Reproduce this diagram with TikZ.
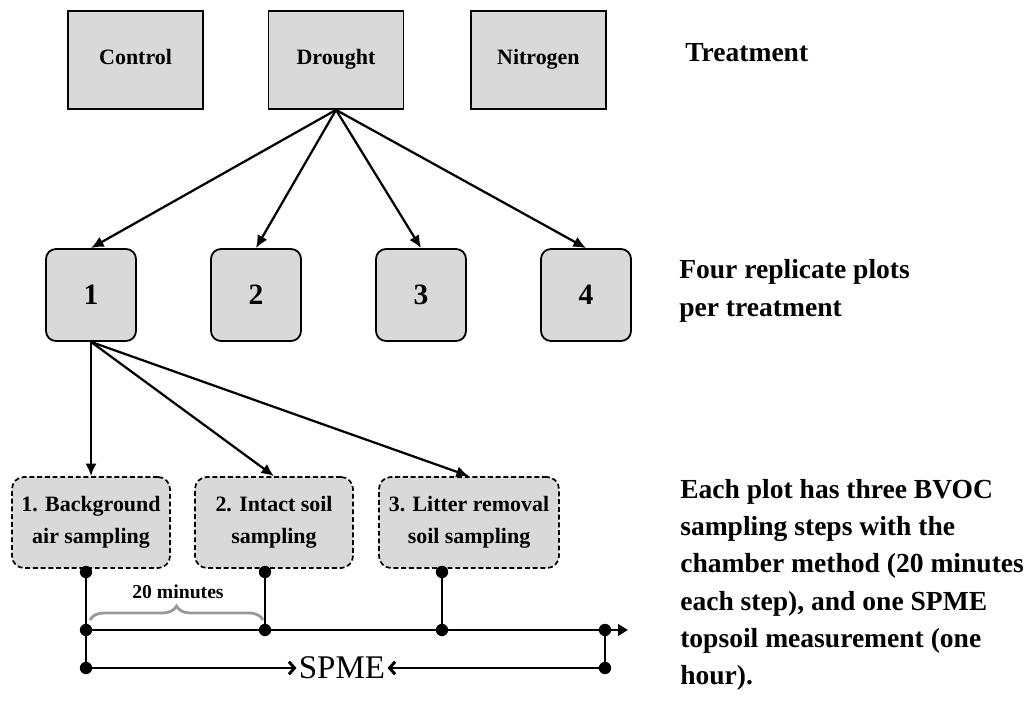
\documentclass[tikz,border=0pt]{standalone}
\usepackage{fontspec}
\setmainfont{Liberation Serif}
\usetikzlibrary{positioning}
\usetikzlibrary{arrows.meta}
\usetikzlibrary{decorations.pathreplacing}

\tikzset{
	treatbox/.style = {draw = black, line width = 1.3pt, fill = black!15, minimum width = 3.375cm, minimum height = 2.45cm, text height = 1.5ex, text depth = 0.1ex, font = \fontsize{15.6}{18}\selectfont\bfseries},
	plotbox/.style = {draw = black, line width = 1.3pt, fill = black!15, rounded corners = 0.25cm, minimum width = 2.25cm, minimum height = 2.3cm, font = \fontsize{21}{24}\selectfont\bfseries},
	samplebox/.style = {draw = black, line width = 1.2pt, dash pattern = on 3.5pt off 2pt, fill = black!15, rounded corners = 0.3cm, minimum height = 2.275cm, align = center, font = \fontsize{15.6}{22.8}\selectfont\bfseries},
	sidetext/.style = {anchor = west, align = left, inner sep = 0pt, font = \fontsize{19.6}{26.5}\selectfont\bfseries},
	dot/.style = {circle, fill = black, inner sep = 0pt, minimum size = 0.31cm},
	link/.style = {black, line width = 1.6pt, -{Latex[length = 9pt, width = 8pt]}},
	timeline/.style = {black, line width = 2.1pt},
}

\begin{document}
\begin{tikzpicture}
	\useasboundingbox (0, 0) rectangle (25.675, 17.775);
	\node[treatbox] (control) at (3.39, 16.275) {Control};
	\node[treatbox] (drought) at (8.4, 16.275) {Drought};
	\node[treatbox] (nitrogen) at (13.46, 16.275) {Nitrogen};
	\node[sidetext] (treatment) at (17.125, 16.45) {Treatment};
	\foreach \i/\x in {1/2.275, 2/6.4, 3/10.525, 4/14.65}
		\node[plotbox] (plot\i) at (\x, 10.4) {\i};
	\foreach \i in {1, ..., 4}
		\draw[link] (drought.south) -- (plot\i.north);
	\node[sidetext] (replicates) at (16.975, 10.5) {Four replicate plots\\per treatment};
	\node[samplebox, minimum width = 3.95cm] (step1) at (2.275, 4.7125) {1. Background\\air sampling};
	\node[samplebox, minimum width = 3.95cm] (step2) at (6.85, 4.7125) {2. Intact soil\\sampling};
	\node[samplebox, minimum width = 4.5cm] (step3) at (11.725, 4.7125) {3. Litter removal\\soil sampling};
	\foreach \s in {step1, step2, step3}
		\draw[link] (plot1.south) -- (\s.north);
	\node[sidetext] (summary) at (17.0, 3.15) {Each plot has three BVOC\\sampling steps with the\\chamber method (20 minutes\\each step), and one SPME\\topsoil measurement (one\\hour).};
	\node[dot] (top1) at (2.15, 3.475) {};
	\node[dot] (top2) at (6.625, 3.475) {};
	\node[dot] (top3) at (11.05, 3.475) {};
	\node[dot] (mid1) at (2.15, 2.025) {};
	\node[dot] (mid2) at (6.625, 2.025) {};
	\node[dot] (mid3) at (11.05, 2.025) {};
	\node[dot] (mid4) at (15.125, 2.025) {};
	\node[dot] (low1) at (2.15, 1.075) {};
	\node[dot] (low4) at (15.125, 1.075) {};
	\coordinate (tend) at (15.7, 2.025);
	\draw[timeline] (top1) -- (mid1) -- (low1);
	\draw[timeline] (top2) -- (mid2);
	\draw[timeline] (top3) -- (mid3);
	\draw[timeline] (mid4) -- (low4);
	\draw[timeline, -{Triangle[length = 7pt, width = 8pt]}] (mid1) -- (tend);
	\node[inner sep = 1.5pt, font = \fontsize{23.5}{28}\selectfont] (spme) at (8.55, 1.075) {SPME};
	\draw[timeline, -{Straight Barb[length = 4pt, width = 9pt]}] (low1) -- (spme.west);
	\draw[timeline, -{Straight Barb[length = 4pt, width = 9pt]}] (low4) -- (spme.east);
	\coordinate (brace1) at (2.25, 2.275);
	\coordinate (brace2) at (6.575, 2.275);
	\draw[black!40, line width = 2pt, decorate, decoration = {brace, amplitude = 0.35cm}] (brace1) -- (brace2);
	\node[font = \fontsize{14}{16}\selectfont\bfseries] (minutes) at (4.45, 2.975) {20 minutes};
\end{tikzpicture}
\end{document}
